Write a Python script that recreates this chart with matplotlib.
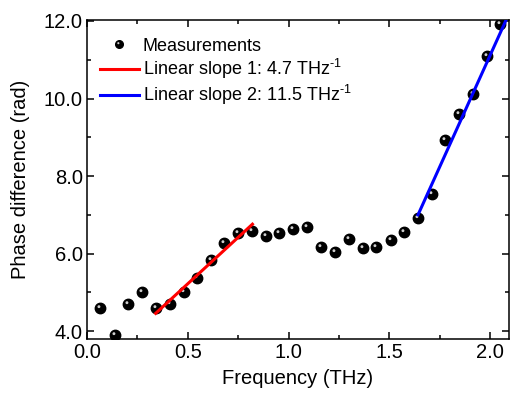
import numpy as np
import matplotlib
matplotlib.use('Agg')
from matplotlib import pyplot as plt
from matplotlib.path import Path
from matplotlib.lines import Line2D
from matplotlib.legend_handler import HandlerTuple
from matplotlib.ticker import MultipleLocator

# measured phase difference
freq = [0.066, 0.139, 0.204, 0.273, 0.341, 0.412, 0.480, 0.546, 0.614, 0.680,
        0.751, 0.821, 0.889, 0.955, 1.024, 1.094, 1.163, 1.231, 1.299, 1.368,
        1.436, 1.506, 1.574, 1.642, 1.713, 1.778, 1.846, 1.915, 1.985, 2.050]
phase = [4.61, 3.90, 4.70, 5.02, 4.60, 4.69, 5.01, 5.38, 5.84, 6.27,
         6.53, 6.59, 6.46, 6.53, 6.64, 6.70, 6.18, 6.04, 6.39, 6.14,
         6.16, 6.35, 6.56, 6.91, 7.54, 8.94, 9.61, 10.12, 11.10, 11.92]

# linear fits
fit1_x = [0.341, 0.821]
fit1_y = [4.46, 6.76]
fit2_x = [1.642, 2.10]
fit2_y = [7.00, 12.27]

plt.rcParams['font.family'] = ['Liberation Sans', 'DejaVu Sans']
plt.rcParams['mathtext.fontset'] = 'custom'
plt.rcParams['mathtext.rm'] = 'Liberation Sans'

fig = plt.figure(figsize=(5.11, 3.96), dpi=100)
ax = fig.add_axes([0.170, 0.144, 0.826, 0.805])

# small highlight spot for the "sphere" look
circ = Path.circle(center=(-0.3, 0.35), radius=0.28)
verts = np.vstack([[[-1, -1]], [[1, 1]], circ.vertices])
codes = np.concatenate([[Path.MOVETO, Path.MOVETO], circ.codes])
shine = Path(verts, codes)

ax.plot(freq, phase, 'o', color='black', ms=7.5, mec='black', zorder=3)
ax.plot(freq, phase, ls='none', marker=shine, color='#cfcfcf',
        ms=7.5, mew=0, zorder=4)
l1, = ax.plot(fit1_x, fit1_y, color='#ff0000', lw=2.2, zorder=5)
l2, = ax.plot(fit2_x, fit2_y, color='#0000ff', lw=2.2, zorder=5)

ax.set_xlim(0, 2.093)
ax.set_ylim(3.8, 12.02)
ax.xaxis.set_minor_locator(MultipleLocator(0.25))
ax.yaxis.set_minor_locator(MultipleLocator(1))
ax.set_xticks([0, 0.5, 1.0, 1.5, 2.0])
ax.set_xticklabels(['0.0', '0.5', '1.0', '1.5', '2.0'])
ax.set_yticks([4, 6, 8, 10, 12])
ax.set_yticklabels(['4.0', '6.0', '8.0', '10.0', '12.0'])

ax.tick_params(which='both', direction='in', top=True, right=True,
               labelsize=14.5, width=1.1)
ax.tick_params(which='major', length=5, pad=3)
ax.tick_params(which='minor', length=3)
for s in ax.spines.values():
    s.set_linewidth(1.1)

ax.set_xlabel('Frequency (THz)', fontsize=14.5, labelpad=5)
ax.set_ylabel('Phase difference (rad)', fontsize=14.5, labelpad=10)

# legend proxies (smaller dot than the data)
d_leg = Line2D([], [], ls='none', marker='o', color='black', ms=5.5)
s_leg = Line2D([], [], ls='none', marker=shine, color='#cfcfcf', ms=5.5, mew=0)

ax.legend([(d_leg, s_leg), l1, l2],
          ['Measurements',
           'Linear slope 1: 4.7 THz$^{\u2010\\mathregular{1}}$',
           'Linear slope 2: 11.5 THz$^{\u2010\\mathregular{1}}$'],
          handler_map={tuple: HandlerTuple(ndivide=1, pad=0)},
          loc='upper left', bbox_to_anchor=(0.0, 0.985), frameon=False,
          fontsize=13, handlelength=2.2, handletextpad=0.2,
          labelspacing=0.12, borderaxespad=0.3, numpoints=1)

fig.savefig('out.png', dpi=100)
